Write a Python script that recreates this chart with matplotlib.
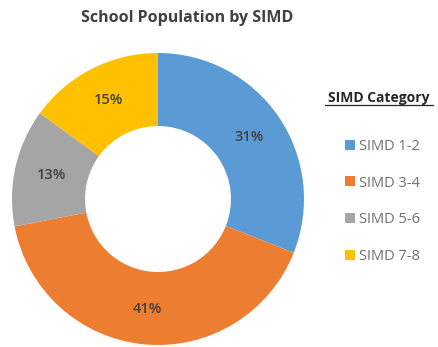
import matplotlib.pyplot as plt
import numpy as np
from matplotlib.lines import Line2D
from matplotlib.patches import Patch

categories = ["SIMD 1-2", "SIMD 3-4", "SIMD 5-6", "SIMD 7-8"]
shares = [31, 41, 13, 15]
colors = ["#5B9BD5", "#ED7D31", "#A5A5A5", "#FFC000"]

plt.rcParams['font.family'] = ['Open Sans', 'DejaVu Sans']

fig = plt.figure(figsize=(4.39, 3.47), dpi=100)
W, H = 439, 347

# donut axes, placed in pixel terms
cx, cy, r = 158, 199, 146
ax = fig.add_axes([(cx - r) / W, (H - cy - r) / H, 2 * r / W, 2 * r / H])
wedges, texts = ax.pie(shares, colors=colors, startangle=90, counterclock=False,
                       radius=1.0, wedgeprops=dict(width=0.5, edgecolor='none'))
ax.set_xlim(-1, 1)
ax.set_ylim(-1, 1)
ax.set_aspect('equal')
ax.axis('off')

# percentage labels in the middle of the ring
for w, v in zip(wedges, shares):
    mid = np.deg2rad((w.theta1 + w.theta2) / 2)
    ax.text(0.75 * np.cos(mid), 0.76 * np.sin(mid), f"{v}%", ha='center', va='center',
            fontsize=10.5, fontweight='semibold', color='#404040')

fig.text(187 / W, 1 - 18 / H, "School Population by SIMD", ha='center', va='center',
         fontsize=11.5, fontweight='bold', color='#404040')

# legend title, underlined by hand
fig.text(379 / W, 1 - 98 / H, "SIMD Category", ha='center', va='center',
         fontsize=10, fontweight='bold', color='#262626')
fig.add_artist(Line2D([325 / W, 433 / W], [1 - 105 / H, 1 - 105 / H],
                      transform=fig.transFigure, color='#262626', lw=0.9))

handles = [Patch(facecolor=c, edgecolor='none') for c in colors]
fig.legend(handles, categories, loc='upper left', bbox_to_anchor=(345 / W, 1 - 139 / H),
           frameon=False, fontsize=10.5, handlelength=0.68, handleheight=0.68,
           handletextpad=0.3, labelspacing=1.48, borderpad=0, borderaxespad=0,
           labelcolor='#707070')

fig.savefig("out.png", dpi=100)
